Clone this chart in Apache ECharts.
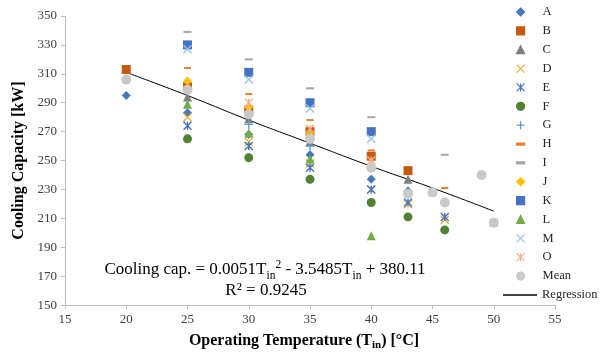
<!DOCTYPE html>
<html>
<head>
<meta charset="utf-8">
<script src="https://cdn.jsdelivr.net/npm/echarts@6/dist/echarts.min.js"></script>
<style>html,body{margin:0;padding:0;background:#fff}#c{width:603px;height:356px}</style>
</head>
<body>
<div id="c"></div>
<script>
// ---- data ----
const xTicks = [15, 20, 25, 30, 35, 40, 45, 50, 55];
const yTicks = [150, 170, 190, 210, 230, 250, 270, 290, 310, 330, 350];
const seriesNames = ['A','B','C','D','E','F','G','H','I','J','K','L','M','O','Mean'];
const dataA = [[20,295],[25,283],[30,268],[35,254],[40,237],[43,229]];
const dataB = [[20,313],[25,301],[30,285],[35,270],[40,253],[43,243]];
const dataC = [[25,294],[30,279],[35,263],[43,237]];
const dataD = [[25,280],[30,263],[35,248],[40,230],[43,220],[46,209]];
const dataE = [[25,274],[30,260],[35,245],[40,230],[43,221],[46,211]];
const dataF = [[25,265],[30,252],[35,237],[40,221],[43,211],[46,202]];
const dataG = [[30,275],[35,260]];
const dataH = [[25,314],[30,296],[35,278],[40,257],[46,231]];
const dataI = [[25,339],[30,320],[35,300],[40,280],[46,254]];
const dataJ = [[25,305],[30,287],[35,268]];
const dataK = [[25,330],[30,311],[35,290],[40,270]];
const dataL = [[25,289],[30,269],[35,251],[40,198]];
const dataM = [[25,327],[30,306],[35,286],[40,265]];
const dataO = [[30,290],[35,272],[40,250],[45,228],[50,207]];
const dataMean = [[20,306],[25,299],[30,282],[35,265],[40,245],[43,227],[45,228],[46,221],[49,240],[50,207]];
const regressionX = [20, 25, 30, 35, 40, 45, 50];
const regressionY = [311, 295, 278, 262, 246, 231, 215];

// ---- styling ----
const SERIF = '"Liberation Serif","Times New Roman",serif';
const X_SYM = 'path://M0,0L10,10M10,0L0,10';
const STAR_SYM = 'path://M0,0L10,10M10,0L0,10M5,0L5,10';
const PLUS_SYM = 'path://M5,0L5,10M0,5L10,5';
const styles = {
  A: {symbol:'diamond', size:9, color:'#4677B8'},
  B: {symbol:'rect', size:9, color:'#C55A11'},
  C: {symbol:'triangle', size:9, color:'#7F7F7F'},
  D: {symbol:X_SYM, size:8, color:'#E6B030', stroke:true},
  E: {symbol:STAR_SYM, size:8, color:'#4472C4', stroke:true},
  F: {symbol:'circle', size:9, color:'#548235'},
  G: {symbol:PLUS_SYM, size:9, color:'#5B9BD5', stroke:true},
  H: {symbol:'rect', size:[7,2], color:'#ED7D31', dash:true},
  I: {symbol:'rect', size:[8,2], color:'#A5A5A5', dash:true},
  J: {symbol:'diamond', size:9, color:'#FFC000'},
  K: {symbol:'rect', size:9, color:'#4472C4'},
  L: {symbol:'triangle', size:9, color:'#70AD47'},
  M: {symbol:X_SYM, size:8, color:'#9DC3E6', stroke:true},
  O: {symbol:STAR_SYM, size:8, color:'#F4B183', stroke:true},
  Mean: {symbol:'circle', size:10, color:'#C9C9C9'}
};
const dataMap = {A:dataA,B:dataB,C:dataC,D:dataD,E:dataE,F:dataF,G:dataG,H:dataH,I:dataI,J:dataJ,K:dataK,L:dataL,M:dataM,O:dataO,Mean:dataMean};

const series = seriesNames.map(n => {
  const s = styles[n];
  return {
    name: n, type: 'scatter', data: dataMap[n],
    symbol: s.symbol, symbolSize: s.size,
    itemStyle: {color: s.color, borderColor: s.color, borderWidth: s.stroke ? 1.4 : 0, opacity: 1},
    emphasis: {disabled: true}
  };
});
series.push({
  name: 'Regression', type: 'line', data: regressionX.map((x, i) => [x, regressionY[i]]),
  symbol: 'none', smooth: true, lineStyle: {color: '#000', width: 1},
  itemStyle: {color: '#404040'}, emphasis: {disabled: true}, z: 1
});

const legendData = seriesNames.map(n => {
  const s = styles[n];
  if (s.dash) return {name: n, icon: 'path://M0,0H10V2.6H0Z'};
  return {name: n};
});

const chart = echarts.init(document.getElementById('c'), null, {renderer: 'canvas'});
chart.setOption({
  animation: false,
  backgroundColor: '#fff',
  grid: {left: 65, right: 48, top: 16, bottom: 45},
  xAxis: {
    type: 'value', min: xTicks[0], max: xTicks[xTicks.length - 1], interval: 5,
    name: 'Operating Temperature (T{s|in}) [°C]', nameLocation: 'middle', nameGap: 22,
    nameTextStyle: {fontFamily: SERIF, fontWeight: 'bold', fontSize: 16, color: '#000', lineHeight: 20, padding: [0, 12, 0, 0],
      rich: {s: {fontFamily: SERIF, fontWeight: 'bold', fontSize: 11, color: '#000', verticalAlign: 'bottom', lineHeight: 11}}},
    axisLine: {show: true, lineStyle: {color: '#BFBFBF', width: 1}},
    axisTick: {show: true, length: 4, lineStyle: {color: '#BFBFBF'}},
    axisLabel: {fontFamily: SERIF, fontSize: 13, color: '#404040', margin: 8},
    splitLine: {show: false}
  },
  yAxis: {
    type: 'value', min: yTicks[0], max: yTicks[yTicks.length - 1], interval: 20,
    name: 'Cooling Capacity [kW]', nameLocation: 'middle', nameGap: 34,
    nameTextStyle: {fontFamily: SERIF, fontWeight: 'bold', fontSize: 16, color: '#000'},
    axisLine: {show: true, lineStyle: {color: '#BFBFBF', width: 1}},
    axisTick: {show: true, length: 4, lineStyle: {color: '#BFBFBF'}},
    axisLabel: {fontFamily: SERIF, fontSize: 13, color: '#404040', margin: 8},
    splitLine: {show: false}
  },
  legend: [{
    orient: 'vertical', left: 516, top: 5.5, padding: 0, itemWidth: 8, itemHeight: 8, itemGap: 5.86,
    data: legendData, selectedMode: false,
    itemStyle: {borderWidth: 1.2},
    formatter: name => '{t|' + name + '}',
    textStyle: {fontFamily: SERIF, fontSize: 12.5, color: '#262626',
      rich: {t: {fontFamily: SERIF, fontSize: 12.5, color: '#262626', lineHeight: 13, padding: [0, 0, 0, 13]}}}
  }, {
    orient: 'vertical', left: 503, top: 288.5, padding: 0, itemWidth: 34, itemHeight: 13,
    data: [{name: 'Regression', icon: 'path://M0,0H34V1.8H0Z'}], selectedMode: false,
    itemStyle: {color: '#404040', borderWidth: 0},
    textStyle: {fontFamily: SERIF, fontSize: 12.5, color: '#262626', lineHeight: 13}
  }],
  graphic: [{
    type: 'text', x: 265, y: 270, z: 100,
    style: {
      text: 'Cooling cap. = 0.0051T{sub|in}{sup|2} - 3.5485T{sub|in} + 380.11',
      font: '17px ' + SERIF, fill: '#000', lineHeight: 23, align: 'center', verticalAlign: 'middle',
      rich: {
        sub: {fontFamily: SERIF, fontSize: 11.5, fill: '#000', verticalAlign: 'bottom'},
        sup: {fontFamily: SERIF, fontSize: 11.5, fill: '#000', verticalAlign: 'top'}
      }
    }
  }, {
    type: 'text', x: 266, y: 291, z: 100,
    style: {text: 'R² = 0.9245', font: '17px ' + SERIF, fill: '#000', align: 'center', verticalAlign: 'middle'}
  }],
  series: series
});
</script>
</body>
</html>
